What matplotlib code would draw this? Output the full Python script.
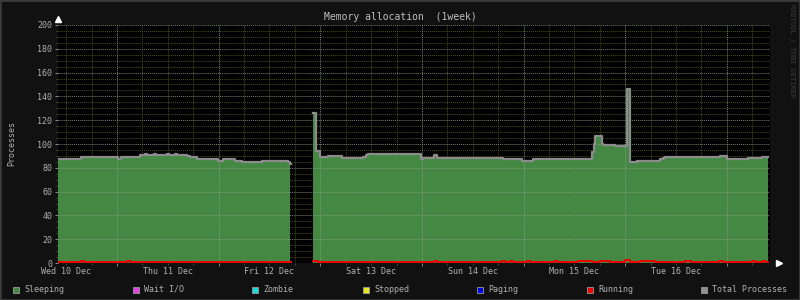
"""Memory allocation (1week) - RRDtool-style process stack chart."""
import numpy as np
import matplotlib
matplotlib.use("Agg")
import matplotlib.pyplot as plt
from matplotlib.patches import Rectangle

# time in hours since Wed 10 Dec 00:00
total_t = [10.06, 15.50, 24.24, 24.94, 29.43, 30.6, 31.1, 32.7, 33.2, 35.8, 36.3,
           37.7, 38.2, 40.54, 41.25, 42.90, 47.86, 49.04, 51.88, 53.53, 58.25,
           64.3, 64.8, 65.11, 70.30, 71.01, 71.96, 73.85, 77.15, 82.12, 82.7,
           83.30, 95.82, 96.3, 98.89, 99.60, 115.19, 119.68, 120.4, 122.28,
           136.21, 136.69, 136.92, 138.58, 138.82, 141.65, 144.48, 145.19,
           146.84, 152.28, 152.9, 153.46, 166.40, 166.92, 168.10, 173.06,
           176.37, 177.79]
total_v = [87, 89, 87, 89, 91, 92, 91, 92, 91, 92, 91,
           92, 91, 90, 89, 87, 86, 87, 86, 85, 86,
           85, 83, np.nan, 126, 94, 89, 90, 88, 89, 91,
           92, 87, 88, 91, 88, 87, 86, 86, 87,
           93, 100, 107, 100, 99, 98, 146, 85,
           86, 87, 88, 89, 90, 90, 87, 88.5,
           89, 89]

# running processes: baseline 1 with short bumps
run_t = [10.06, 15.50, 16.20, 26.36, 27.07, 65.11, 70.30, 71.48, 98.89, 99.60,
         114.95, 115.66, 116.84, 117.55, 120.86, 121.57, 127.47, 128.18,
         132.91, 136.21, 138.10, 140.46, 144.01, 145.19, 147.55, 151.09,
         158.18, 159.60, 166.21, 167.15, 174.01, 174.72, 176.61, 177.32, 177.79]
run_v = [1, 2, 1, 2, 1, np.nan, 2, 1, 2, 1,
         2, 1, 2, 1, 2, 1, 2, 1,
         2, 1, 2, 1, 2.5, 1, 2, 1,
         2, 1, 2, 1, 2, 1, 2, 1, 1]

day_labels = ["Wed 10 Dec", "Thu 11 Dec", "Fri 12 Dec", "Sat 13 Dec",
              "Sun 14 Dec", "Mon 15 Dec", "Tue 16 Dec"]
legend_names = ["Sleeping", "Wait I/O", "Zombie", "Stopped", "Paging",
                "Running", "Total Processes"]
legend_colors = ["#448844", "#e040e0", "#20d8d8", "#e8e820", "#0000ee",
                 "#ee0000", "#909090"]

mono = "DejaVu Sans Mono"
txt = "#b0b0b0"
dots = (0, (1, 1))

fig = plt.figure(figsize=(8, 3), dpi=100, facecolor="#111111")
ax = fig.add_axes([0.0725, 0.1233, 0.89, 0.7934], facecolor="black")

t = np.array(total_t)
v = np.array(total_v, dtype=float)
ax.fill_between(t, 0, v, step="post", color="#448844", linewidth=0,
                where=~np.isnan(v), zorder=2)

ax.set_xlim(10.06, 178.2)
ax.set_ylim(0, 200)

midnights = np.arange(24, 178, 24)
ax.set_xticks(midnights)
ax.set_xticks(np.arange(12, 178, 6), minor=True)
ax.set_xticklabels([])
ax.set_yticks(np.arange(0, 201, 20))
ax.set_yticks(np.arange(0, 201, 5), minor=True)
ax.set_yticklabels([str(y) for y in range(0, 201, 20)], family=mono,
                   fontsize=6, color=txt)

# minor grid under the area, major grid on top of it
ax.set_axisbelow(True)
ax.grid(which="minor", color="#4c4c1e", linestyle=dots, linewidth=0.7)
for x in midnights:
    ax.axvline(x, color="#8aa08a", linestyle=dots, linewidth=0.7, alpha=0.8,
               zorder=2.5)
for y in range(0, 201, 20):
    ax.axhline(y, color="#8aa08a", linestyle=dots, linewidth=0.7, alpha=0.8,
               zorder=2.5)

ax.step(t, v, where="post", color="#8c8c8c", linewidth=1.6, zorder=3)
ax.step(run_t, run_v, where="post", color="#ee0000", linewidth=1.4, zorder=4)

ax.tick_params(which="major", colors="#8a8a8a", length=2, width=0.7,
               labelcolor=txt, pad=2)
ax.tick_params(which="minor", colors="#555522", length=1.5, width=0.6)
for s in ax.spines.values():
    s.set_visible(False)

for i, lab in enumerate(day_labels):
    ax.text(12 + 24 * i, -3.5, lab, ha="center", va="top", family=mono,
            fontsize=6, color=txt, clip_on=False)

# axis arrows
ax.plot([0], [1.025], transform=ax.transAxes, marker="^", color="white",
        markersize=4, clip_on=False)
ax.plot([1.013], [0], transform=ax.transAxes, marker=">", color="white",
        markersize=4, clip_on=False)

fig.text(0.5, 0.945, "Memory allocation  (1week)", ha="center", va="center",
         family=mono, fontsize=7, color="#c0c0c0")
fig.text(0.015, 0.523, "Processes", ha="center", va="center", rotation=90,
         family=mono, fontsize=6, color=txt)
fig.text(0.99, 0.83, "RRDTOOL / TOBI OETIKER", ha="center", va="center",
         rotation=270, family=mono, fontsize=5, color="#3c3c3c")

# legend row
lx = [13, 133, 252, 363, 477, 587, 701]
for x, name, c in zip(lx, legend_names, legend_colors):
    fig.patches.append(Rectangle((x / 800, 1 - 293 / 300), 6 / 800, 6 / 300,
                                 transform=fig.transFigure, facecolor=c,
                                 edgecolor="#999999", linewidth=0.6))
    fig.text((x + 11) / 800, 1 - 289.5 / 300, name, ha="left", va="center",
             family=mono, fontsize=6, color=txt)

fig.patches.append(Rectangle((0, 0), 1, 1, transform=fig.transFigure,
                             fill=False, edgecolor="#3a3a3a", linewidth=2))

fig.savefig("out.png", dpi=100, facecolor=fig.get_facecolor())
